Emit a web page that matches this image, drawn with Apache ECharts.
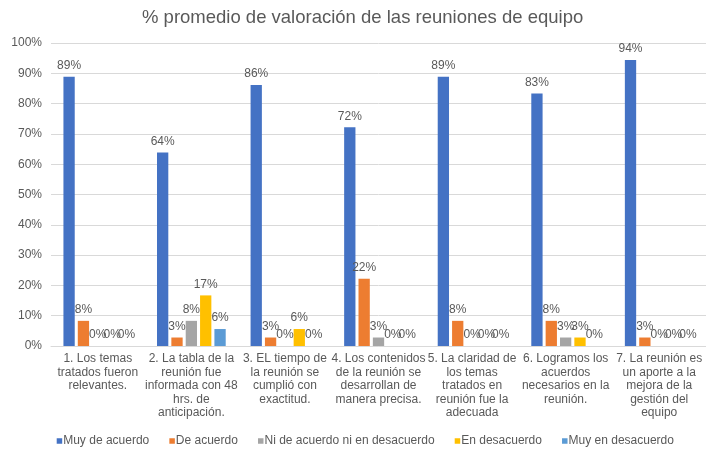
<!DOCTYPE html>
<html>
<head>
<meta charset="utf-8">
<script src="https://cdn.jsdelivr.net/npm/echarts@6/dist/echarts.min.js"></script>
<style>
html,body{margin:0;padding:0;background:#fff;}
#chart{width:706px;height:449px;}
</style>
</head>
<body>
<div id="chart"></div>
<script>
const titleText = '% promedio de valoración de las reuniones de equipo';
const categories = [
  '1. Los temas\ntratados fueron\nrelevantes.',
  '2. La tabla de la\nreunión fue\ninformada con 48\nhrs. de\nanticipación.',
  '3. EL tiempo de\nla reunión se\ncumplió con\nexactitud.',
  '4. Los contenidos\nde la reunión se\ndesarrollan de\nmanera precisa.',
  '5. La claridad de\nlos temas\ntratados en\nreunión fue la\nadecuada',
  '6. Logramos los\nacuerdos\nnecesarios en la\nreunión.',
  '7. La reunión es\nun aporte a la\nmejora de la\ngestión del\nequipo'
];
const seriesNames = ['Muy de acuerdo', 'De acuerdo', 'Ni de acuerdo ni en desacuerdo', 'En desacuerdo', 'Muy en desacuerdo'];
const muyDeAcuerdo = [88.9, 63.9, 86.1, 72.2, 88.9, 83.3, 94.4];
const deAcuerdo = [8.3, 2.8, 2.8, 22.2, 8.3, 8.3, 2.8];
const niDeAcuerdo = [0, 8.3, 0, 2.8, 0, 2.8, 0];
const enDesacuerdo = [0, 16.7, 5.6, 0, 0, 2.8, 0];
const muyEnDesacuerdo = [0, 5.6, 0, 0, 0, 0, 0];
const yTicks = [0, 10, 20, 30, 40, 50, 60, 70, 80, 90, 100];

const colors = ['#4472C4', '#ED7D31', '#A5A5A5', '#FFC000', '#5B9BD5'];
const seriesData = [muyDeAcuerdo, deAcuerdo, niDeAcuerdo, enDesacuerdo, muyEnDesacuerdo];
const font = 'Liberation Sans, Arial, sans-serif';
const textColor = '#595959';

const chart = echarts.init(document.getElementById('chart'), null, {renderer: 'canvas'});
chart.setOption({
  animation: false,
  color: colors,
  title: {
    text: titleText,
    left: 142,
    top: 8,
    padding: 0,
    textStyle: {fontFamily: font, fontSize: 18.5, fontWeight: 'normal', color: textColor}
  },
  legend: {
    data: seriesNames,
    left: 56.7,
    top: 435,
    padding: 0,
    itemWidth: 5.5,
    itemHeight: 5.5,
    itemGap: 20.1,
    icon: 'rect',
    textStyle: {fontFamily: font, fontSize: 12, color: textColor, padding: [0, 0, 0, -4]}
  },
  grid: {left: 51, top: 43, width: 657, bottom: 103, containLabel: false},
  xAxis: {
    type: 'category',
    data: categories,
    axisLine: {show: true, lineStyle: {color: '#D9D9D9', width: 1}},
    axisTick: {show: false},
    axisLabel: {interval: 0, fontFamily: font, fontSize: 12, color: textColor, lineHeight: 13.5, margin: 6}
  },
  yAxis: {
    type: 'value',
    min: yTicks[0],
    max: yTicks[yTicks.length - 1],
    interval: 10,
    axisLine: {show: false},
    axisTick: {show: false},
    splitLine: {lineStyle: {color: '#D9D9D9', width: 1}},
    axisLabel: {fontFamily: font, fontSize: 12, color: textColor, margin: 9, formatter: v => v + '%'}
  },
  series: seriesNames.map((name, i) => ({
    name: name,
    type: 'bar',
    data: seriesData[i],
    barWidth: 11.3,
    barGap: '27%',
    itemStyle: {color: colors[i]},
    label: {
      show: true,
      position: 'top',
      distance: 5,
      fontFamily: font,
      fontSize: 12,
      color: textColor,
      formatter: p => Math.round(p.value) + '%'
    }
  }))
});
</script>
</body>
</html>
